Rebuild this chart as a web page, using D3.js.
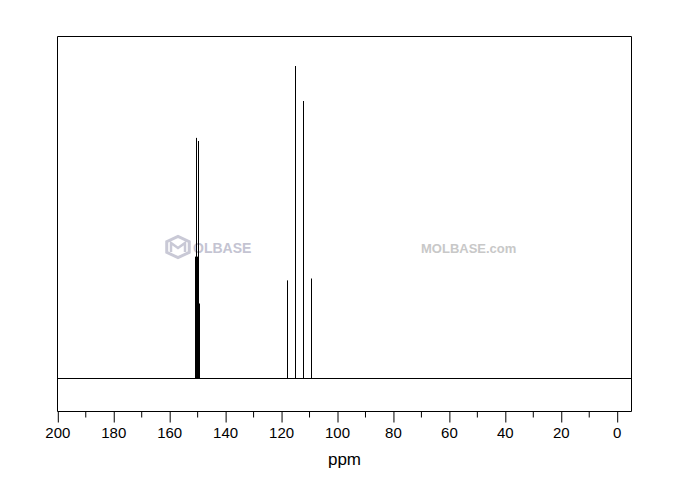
<!DOCTYPE html>
<html>
<head>
<meta charset="utf-8">
<script src="https://cdn.jsdelivr.net/npm/d3@7"></script>
<style>
  html, body { margin: 0; padding: 0; background: #fff; }
  svg { display: block; }
</style>
</head>
<body>
<script>
// Peak positions (ppm) and relative intensities
const peakPpm = [150.59, 150.23, 149.87, 149.51, 149.16, 117.7, 114.9, 112.05, 109.2];
const peakIntensity = [39, 77, 39, 76, 24, 31.4, 100, 88.8, 32];
const xTicks = [200, 180, 160, 140, 120, 100, 80, 60, 40, 20, 0];
const minorTicks = [190, 170, 150, 130, 110, 90, 70, 50, 30, 10];
const axisTitle = "ppm";

const W = 680, H = 500;
const frameL = 57.5, frameR = 631.5, frameT = 36.5, frameB = 411.5;

const svg = d3.select("body").append("svg").attr("width", W).attr("height", H);

// x: 200 ppm -> 57.3, 0 ppm -> 616.7
const x = d3.scaleLinear().domain([200, 0]).range([57.3, 616.7]);
const y = d3.scaleLinear().domain([0, 100]).range([378.5, 66]);

// watermarks
const wm = svg.append("g");
const hx = 178, hy = 247, hr = 13;
const hex = d3.range(6).map(i => {
  const a = Math.PI / 3 * i + Math.PI / 6;
  return [hx + hr * Math.cos(a), hy + hr * Math.sin(a) * 0.82];
});
wm.append("path").attr("d", d3.line()(hex) + "Z")
  .attr("fill", "none").attr("stroke", "#c9c9d6").attr("stroke-width", 3);
wm.append("path").attr("d", `M${hx-7},${hy+5}L${hx-7},${hy-4}L${hx},${hy+1}L${hx+7},${hy-4}L${hx+7},${hy+5}`)
  .attr("fill", "none").attr("stroke", "#c9c9d6").attr("stroke-width", 2.5);
wm.append("text").attr("x", 193).attr("y", 253).text("OLBASE")
  .attr("font-family", "Liberation Sans, Arial, sans-serif").attr("font-weight", "bold")
  .attr("font-size", 14).attr("fill", "#c4c4d2");
wm.append("text").attr("x", 421).attr("y", 253).text("MOLBASE.com")
  .attr("font-family", "Liberation Sans, Arial, sans-serif").attr("font-weight", "bold")
  .attr("font-size", 13).attr("fill", "#c8c8c8");

// frame (left, top, right)
svg.append("path")
  .attr("d", `M${frameL},${frameB}L${frameL},${frameT}L${frameR},${frameT}L${frameR},${frameB}`)
  .attr("fill", "none").attr("stroke", "#000").attr("stroke-width", 1);

// baseline
svg.append("line").attr("x1", frameL).attr("x2", frameR)
  .attr("y1", y(0)).attr("y2", y(0)).attr("stroke", "#000").attr("stroke-width", 1);

// peaks
svg.append("g").selectAll("line").data(peakPpm).join("line")
  .attr("x1", d => Math.floor(x(d)) + 0.5).attr("x2", d => Math.floor(x(d)) + 0.5)
  .attr("y1", y(0)).attr("y2", (d, i) => y(peakIntensity[i]))
  .attr("stroke", "#000").attr("stroke-width", 1);

// axis
svg.append("line").attr("x1", frameL).attr("x2", frameR)
  .attr("y1", frameB).attr("y2", frameB).attr("stroke", "#000").attr("stroke-width", 1.2);

const ax = d3.axisBottom(x).tickValues(xTicks).tickSize(11).tickPadding(5).tickFormat(d3.format("d"));
const gAx = svg.append("g").attr("transform", `translate(0,${frameB})`).call(ax);
gAx.select(".domain").remove();
gAx.selectAll(".tick line").attr("stroke", "#000").attr("transform", "translate(0.5,0)");
gAx.selectAll(".tick text")
  .attr("font-family", "Liberation Sans, Arial, sans-serif")
  .attr("font-size", 15).attr("fill", "#000");

svg.append("g").selectAll("line").data(minorTicks).join("line")
  .attr("x1", d => x(d) + 0.5).attr("x2", d => x(d) + 0.5)
  .attr("y1", frameB).attr("y2", frameB + 6)
  .attr("stroke", "#000");

svg.append("text").attr("x", (frameL + frameR) / 2).attr("y", 465)
  .attr("text-anchor", "middle")
  .attr("font-family", "Liberation Sans, Arial, sans-serif")
  .attr("font-size", 17).text(axisTitle);
</script>
</body>
</html>
